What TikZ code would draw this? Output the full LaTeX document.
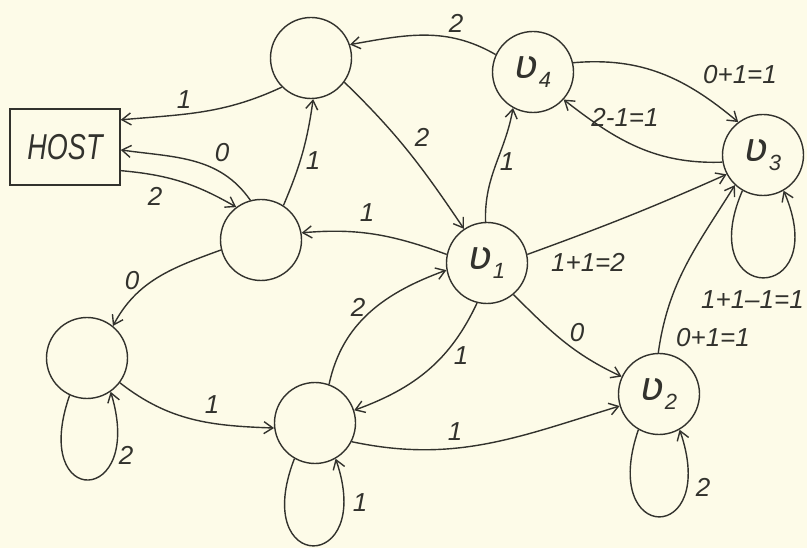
\documentclass[tikz,border=0pt]{standalone}
\usepackage{fontspec}
\setmainfont{Liberation Sans}
\newfontfamily\vfont{DejaVu Sans}
\usetikzlibrary{arrows.meta}
\definecolor{paper}{RGB}{253,251,232}
\definecolor{ink}{RGB}{50,50,45}
\newcommand\vlab[1]{{\vfont\itshape\fontsize{40}{40}\selectfont ʋ}\kern0pt\raisebox{-9pt}{\fontsize{22}{22}\selectfont\itshape #1}}
\begin{document}
\begin{tikzpicture}[x=1pt,y=1pt,
  state/.style={circle,draw=ink,line width=1.4pt,minimum size=81pt,inner sep=0pt,text=ink},
  hostbox/.style={draw=ink,line width=1.4pt,minimum width=110pt,minimum height=76pt,inner sep=0pt,text=ink},
  edge/.style={draw=ink,line width=1.4pt,-{Straight Barb[length=9pt,width=12pt,line width=1.4pt]}},
  lbl/.style={font=\fontsize{26}{26}\selectfont\itshape,text=ink,inner sep=0pt}]
\fill[paper] (0,0) rectangle (807,-548);
\useasboundingbox (0,0) rectangle (807,-548);

% nodes
\node[state] (A) at (311,-58) {};
\node[hostbox] (H) at (65,-147) {\scalebox{0.75}[1]{\fontsize{36}{36}\selectfont\itshape HOST}};
\node[state] (B) at (261,-240) {};
\node[state] (V4) at (533,-72) {\vlab{4}};
\node[state] (V3) at (763,-155) {\vlab{3}};
\node[state] (V1) at (487,-263) {\vlab{1}};
\node[state] (V2) at (659,-394) {\vlab{2}};
\node[state] (C) at (87,-358) {};
\node[state] (D) at (315,-423) {};

% edges
\draw[edge] (A.225) to[out=205,in=5] (H.26);
\draw[edge] (B.105) to[out=125,in=-8] (H.-3);
\draw[edge] (H.-23) to[out=-5,in=150] (B.127);
\draw[edge] (B.57) to[out=67,in=-98] (A.-87);
\draw[edge] (A.-36) to[out=-44,in=124] (V1.124);
\draw[edge] (V4.155) to[out=150,in=10] (A.19);
\draw[edge] (V1.168) to[out=160,in=5] (B.10);
\draw[edge] (V1.92) to[out=92,in=-100] (V4.241);
\draw[edge] (V4.13) to[out=5,in=140] (V3.127);
\draw[edge] (V3.190) to[out=182,in=-38] (V4.-42);
\draw[edge] (V1.12) to[out=20,in=204] (V3.208);
\draw[edge] (V2.91) to[out=82,in=238] (V3.227);
\draw[edge] (V1.-50) to[out=-45,in=155] (V2.155);
\draw[edge] (B.194) to[out=200,in=62] (C.51);
\draw[edge] (C.-37) to[out=-38,in=178] (D.187);
\draw[edge] (D.70) to[out=78,in=200] (V1.190);
\draw[edge] (V1.256) to[out=245,in=20] (D.18);
\draw[edge] (D.-27) to[out=-12,in=197] (V2.197);

% loops
\draw[edge] (C.245) .. controls +(-40,-115) and +(35,-115) .. (C.-55);
\draw[edge] (D.240) .. controls +(-45,-116) and +(40,-116) .. (D.-60);
\draw[edge] (V2.240) .. controls +(-40,-116) and +(40,-116) .. (V2.-60);
\draw[edge] (V3.240) .. controls +(-50,-116) and +(50,-116) .. (V3.-60);

% labels
\node[lbl] (l1) at (184,-100) {1};
\node[lbl] (l2) at (222,-153) {0};
\node[lbl] (l3) at (155,-196) {2};
\node[lbl] (l4) at (313,-161) {1};
\node[lbl] (l5) at (422,-137) {2};
\node[lbl] (l6) at (456,-23) {2};
\node[lbl] (l7) at (367,-213) {1};
\node[lbl] (l8) at (507,-162) {1};
\node[lbl] (l9) at (740,-75) {0+1=1};
\node[lbl] (l10) at (625,-117) {2-1=1};
\node[lbl] (l11) at (588,-262) {1+1=2};
\node[lbl] (l12) at (713,-338) {0+1=1};
\node[lbl] (l13) at (577,-333) {0};
\node[lbl] (l14) at (132,-281) {0};
\node[lbl] (l15) at (212,-405) {1};
\node[lbl] (l16) at (358,-307) {2};
\node[lbl] (l17) at (461,-356) {1};
\node[lbl] (l18) at (455,-432) {1};
\node[lbl] (l19) at (126,-455) {2};
\node[lbl] (l20) at (360,-503) {1};
\node[lbl] (l21) at (703,-487) {2};
\node[lbl,anchor=east] (l22) at (804,-300) {1+1–1=1};
\end{tikzpicture}
\end{document}
